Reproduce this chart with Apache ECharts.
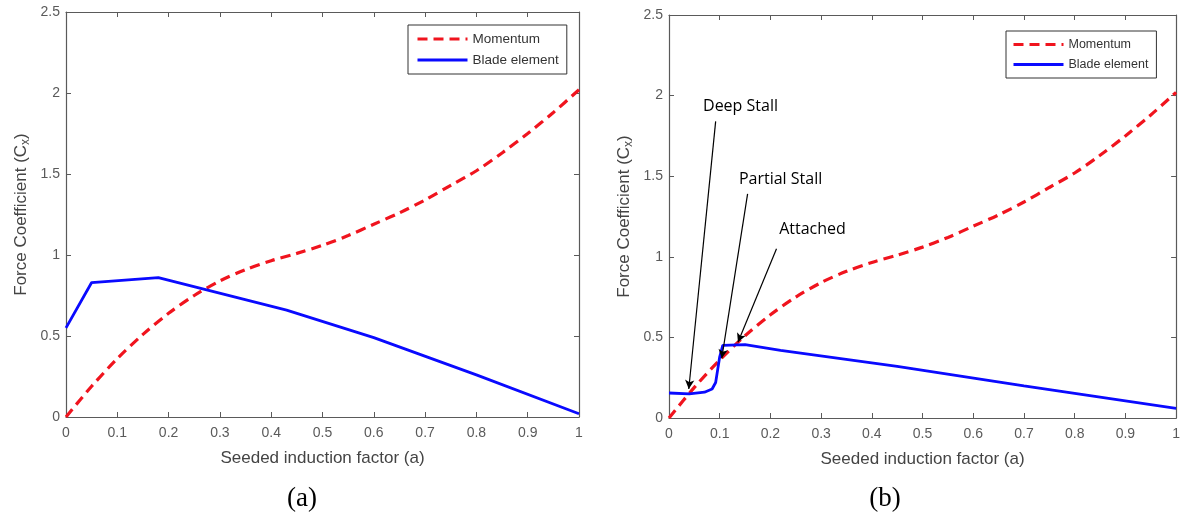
<!DOCTYPE html>
<html>
<head>
<meta charset="utf-8">
<script src="https://cdn.jsdelivr.net/npm/echarts@6/dist/echarts.min.js"></script>
<style>
html,body{margin:0;padding:0;background:#fff;}
#c{width:1183px;height:522px;}
</style>
</head>
<body>
<div id="c"></div>
<script>
// ---- data ----
var xTicks = [0, 0.1, 0.2, 0.3, 0.4, 0.5, 0.6, 0.7, 0.8, 0.9, 1];
var yTicks = [0, 0.5, 1, 1.5, 2, 2.5];

// Momentum curve (same in both panels)
var momX = [0, 0.05, 0.1, 0.15, 0.2, 0.25, 0.3, 0.35, 0.4, 0.45, 0.5, 0.55, 0.6, 0.65, 0.7, 0.75, 0.8, 0.85, 0.9, 0.95, 1.0];
var momY = [0, 0.19, 0.36, 0.51, 0.64, 0.75, 0.84, 0.91, 0.965, 1.01, 1.06, 1.12, 1.19, 1.26, 1.34, 1.43, 1.52, 1.63, 1.75, 1.88, 2.02];

// Blade element, panel (a)
var bladeAX = [0, 0.05, 0.18, 0.43, 0.6, 0.8, 1.0];
var bladeAY = [0.55, 0.83, 0.86, 0.66, 0.49, 0.26, 0.02];

// Blade element, panel (b)
var bladeBX = [0, 0.04, 0.07, 0.085, 0.092, 0.096, 0.1, 0.106, 0.15, 0.22, 0.45, 0.7, 1.0];
var bladeBY = [0.155, 0.15, 0.16, 0.18, 0.22, 0.3, 0.38, 0.45, 0.455, 0.42, 0.32, 0.20, 0.06];

// Annotations, panel (b): label, text position, arrow start, arrow tip
var annLabels = ['Deep Stall', 'Partial Stall', 'Attached'];
var annTextX = [0.141, 0.220, 0.283];
var annTextY = [1.93, 1.48, 1.17];
var annFromX = [0.092, 0.155, 0.212];
var annFromY = [1.84, 1.39, 1.05];
var annToX = [0.039, 0.104, 0.136];
var annToY = [0.18, 0.37, 0.47];

function pairs(xs, ys) { return xs.map(function (x, i) { return [x, ys[i]]; }); }

var chart = echarts.init(document.getElementById('c'));
var frameColor = '#5a5a5a';
var labelColor = '#5a5a5a';
var sans = 'Liberation Sans, Arial, sans-serif';

var grids = [
  { left: 66, top: 12, width: 513, height: 405 },
  { left: 669, top: 15, width: 509, height: 403 }
];

var xAxes = [], yAxes = [];
[0, 1].forEach(function (g) {
  xAxes.push({
    type: 'value', gridIndex: g, min: 0, max: 1, interval: 0.1, position: 'bottom',
    axisLine: { onZero: false, lineStyle: { color: frameColor, width: 1.2 } },
    axisTick: { inside: true, length: 5, lineStyle: { color: frameColor } },
    axisLabel: { color: labelColor, fontSize: 14, fontFamily: sans, margin: 9,
      formatter: function (v) { return String(Math.round(v * 10) / 10); } },
    splitLine: { show: false },
    name: 'Seeded induction factor (a)', nameLocation: 'middle', nameGap: 33,
    nameTextStyle: { color: '#444', fontSize: 17, fontFamily: sans }
  });
  xAxes.push({
    type: 'value', gridIndex: g, min: 0, max: 1, interval: 0.1, position: 'top',
    axisLine: { onZero: false, lineStyle: { color: frameColor, width: 1.2 } },
    axisTick: { inside: true, length: 5, lineStyle: { color: frameColor } },
    axisLabel: { show: false }, splitLine: { show: false }
  });
  yAxes.push({
    type: 'value', gridIndex: g, min: 0, max: 2.5, interval: 0.5, position: 'left',
    axisLine: { onZero: false, lineStyle: { color: frameColor, width: 1.2 } },
    axisTick: { inside: true, length: 5, lineStyle: { color: frameColor } },
    axisLabel: { color: labelColor, fontSize: 14, fontFamily: sans, margin: 6 },
    splitLine: { show: false },
    name: 'Force Coefficient (C{s|x})', nameLocation: 'middle', nameGap: 34,
    nameTextStyle: { color: '#444', fontSize: 17, fontFamily: sans,
      rich: { s: { fontSize: 12, fontFamily: sans, color: '#444', padding: [10, 0, 0, 0] } } }
  });
  yAxes.push({
    type: 'value', gridIndex: g, min: 0, max: 2.5, interval: 0.5, position: 'right',
    axisLine: { onZero: false, lineStyle: { color: frameColor, width: 1.2 } },
    axisTick: { inside: true, length: 5, lineStyle: { color: frameColor } },
    axisLabel: { show: false }, splitLine: { show: false }
  });
});

var red = '#f0141e';
var blue = '#0a0aff';

function momSeries(g) {
  return {
    name: 'Momentum', type: 'line', xAxisIndex: g * 2, yAxisIndex: g * 2,
    data: pairs(momX, momY), showSymbol: false, symbol: 'none', smooth: 0.3,
    lineStyle: { color: red, width: 3.2, type: [10, 6] }, itemStyle: { color: red }, z: 3
  };
}
function bladeSeries(g, xs, ys) {
  return {
    name: 'Blade element', type: 'line', xAxisIndex: g * 2, yAxisIndex: g * 2,
    data: pairs(xs, ys), showSymbol: false, symbol: 'none',
    lineStyle: { color: blue, width: 2.8 }, itemStyle: { color: blue }, z: 4
  };
}

var arrowSeries = {
  name: 'annotations', type: 'line', xAxisIndex: 2, yAxisIndex: 2, data: [],
  symbol: 'none', silent: true, z: 6,
  markLine: {
    silent: true, animation: false,
    symbol: ['none', 'arrow'], symbolSize: [7, 9],
    lineStyle: { color: '#000', width: 1.2, type: 'solid' },
    label: { show: false },
    data: annLabels.map(function (l, i) {
      return [{ coord: [annFromX[i], annFromY[i]] }, { coord: [annToX[i], annToY[i]] }];
    })
  },
  markPoint: {
    silent: true, animation: false, symbol: 'circle', symbolSize: 0,
    label: { show: true, position: 'inside', color: '#000', fontSize: 16,
      fontFamily: 'Open Sans, Noto Sans, sans-serif', formatter: function (p) { return p.name; } },
    data: annLabels.map(function (l, i) {
      return { name: l, coord: [annTextX[i], annTextY[i]] };
    })
  }
};

var legendBase = {
  orient: 'vertical', itemWidth: 50, itemHeight: 12, itemGap: 7,
  backgroundColor: '#fff', borderColor: '#333', borderWidth: 1, borderRadius: 0,
  data: ['Momentum', 'Blade element'], selectedMode: false,
  itemStyle: { opacity: 0 },
  lineStyle: { width: 3 }
};

var option = {
  animation: false,
  backgroundColor: '#fff',
  title: [
    { text: '(a)', left: 297, top: 480, textAlign: 'center',
      textStyle: { fontFamily: 'Liberation Serif, Times New Roman, serif', fontSize: 27, fontWeight: 'normal', color: '#000' } },
    { text: '(b)', left: 880, top: 480, textAlign: 'center',
      textStyle: { fontFamily: 'Liberation Serif, Times New Roman, serif', fontSize: 27, fontWeight: 'normal', color: '#000' } }
  ],
  grid: grids,
  xAxis: xAxes,
  yAxis: yAxes,
  legend: [
    Object.assign({}, legendBase, { left: 408, top: 25, padding: [7, 8, 7, 8],
      textStyle: { fontSize: 13.5, fontFamily: sans, color: '#333' } }),
    Object.assign({}, legendBase, { left: 1006, top: 31, padding: [7, 8, 7, 6],
      textStyle: { fontSize: 12.5, fontFamily: sans, color: '#333' } })
  ],
  series: [
    momSeries(0),
    bladeSeries(0, bladeAX, bladeAY),
    momSeries(1),
    bladeSeries(1, bladeBX, bladeBY),
    arrowSeries
  ]
};
chart.setOption(option);
</script>
</body>
</html>
